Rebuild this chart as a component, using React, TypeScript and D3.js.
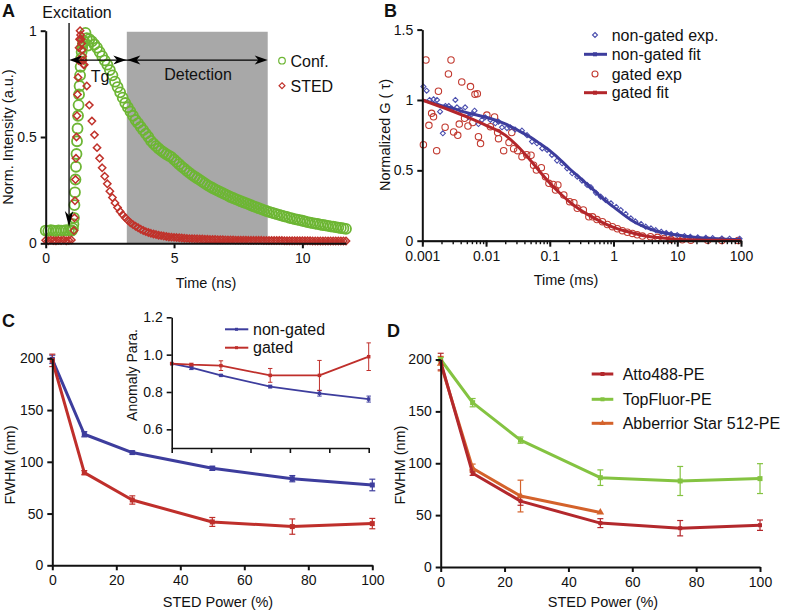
import React, { useRef, useEffect } from "react";
import * as d3 from "d3";

// ---------- A: lifetime decay, 0.1 ns channels ----------
const decayStep = 0.1;
const confDecay = [
  0.06, 0.058, 0.062, 0.06, 0.057, 0.061, 0.06, 0.059, 0.062, 0.06, 0.061,
  0.12, 0.42, 0.7, 0.9, 0.95, 0.965, 0.96, 0.95, 0.935, 0.92,
  0.9, 0.88, 0.86, 0.84, 0.815, 0.79, 0.76, 0.735, 0.71, 0.685,
  0.66, 0.64, 0.62, 0.6, 0.58, 0.565, 0.548, 0.532, 0.516, 0.5,
  0.482, 0.469, 0.457, 0.446, 0.436, 0.427, 0.419, 0.412, 0.405, 0.394,
  0.383, 0.372, 0.361, 0.351, 0.341, 0.331, 0.322, 0.314, 0.306, 0.298,
  0.29, 0.282, 0.274, 0.267, 0.26, 0.254, 0.248, 0.242, 0.236, 0.23,
  0.224, 0.218, 0.213, 0.208, 0.203, 0.198, 0.193, 0.189, 0.184, 0.179,
  0.174, 0.17, 0.165, 0.161, 0.156, 0.152, 0.148, 0.144, 0.141, 0.137,
  0.134, 0.13, 0.127, 0.124, 0.12, 0.117, 0.114, 0.111, 0.109, 0.106,
  0.103, 0.1, 0.097, 0.095, 0.093, 0.091, 0.088, 0.086, 0.084, 0.082,
  0.08, 0.078, 0.076, 0.074, 0.072, 0.07, 0.068,
];
const stedDecay = [
  0.014, 0.012, 0.015, 0.013, 0.012, 0.014, 0.013, 0.015, 0.012, 0.014, 0.016,
  0.06, 0.5, 0.92, 0.94, 0.84, 0.74, 0.65, 0.575, 0.51, 0.45,
  0.4, 0.355, 0.315, 0.28, 0.245, 0.215, 0.19, 0.168, 0.15, 0.134,
  0.12, 0.108, 0.097, 0.088, 0.08, 0.073, 0.066, 0.06, 0.055, 0.051,
  0.047, 0.044, 0.041, 0.038, 0.036, 0.034, 0.032, 0.03, 0.029, 0.028,
  0.027, 0.026, 0.025, 0.024, 0.023, 0.022, 0.022, 0.021, 0.021, 0.02,
  0.02, 0.019, 0.019, 0.018, 0.018, 0.018, 0.017, 0.017, 0.017, 0.016,
  0.016, 0.016, 0.016, 0.015, 0.015, 0.015, 0.015, 0.015, 0.014, 0.014,
  0.014, 0.014, 0.014, 0.014, 0.013, 0.013, 0.013, 0.013, 0.013, 0.013,
  0.013, 0.013, 0.012, 0.012, 0.012, 0.012, 0.012, 0.012, 0.012, 0.012,
  0.012, 0.012, 0.012, 0.011, 0.011, 0.011, 0.011, 0.011, 0.011, 0.011,
  0.011, 0.011, 0.011, 0.011, 0.011, 0.011, 0.011,
];
// extra points on the fast rising edge
const confRiseTime = [1.02, 1.06, 1.08, 1.12, 1.14, 1.16, 1.18, 1.22, 1.24, 1.26, 1.28, 1.32, 1.34, 1.36, 1.38, 1.42, 1.45, 1.55, 1.65];
const confRise = [0.06, 0.07, 0.09, 0.18, 0.24, 0.3, 0.36, 0.48, 0.54, 0.6, 0.65, 0.74, 0.79, 0.83, 0.87, 0.92, 0.94, 0.99, 0.93];
const stedRiseTime = [1.12, 1.14, 1.16, 1.18, 1.22, 1.24, 1.26, 1.28, 1.32, 1.34, 1.36, 1.38, 1.42, 1.44, 1.46, 1.48];
const stedRise = [0.12, 0.2, 0.3, 0.4, 0.6, 0.7, 0.78, 0.86, 0.96, 1.0, 0.98, 0.96, 0.91, 0.88, 0.86, 0.84];
const excitationTime = 0.91;
const detectionWindow = [3.16, 8.65];
const arrowLevel = 0.862;

// ---------- B: FCS curves ----------
const ngExpTime = [0.00104, 0.00117, 0.0013, 0.0015, 0.0017, 0.0019, 0.0021, 0.0023, 0.0026, 0.0029, 0.0033, 0.0035, 0.004, 0.0047, 0.0053, 0.006, 0.0066, 0.0076, 0.0086, 0.0097, 0.0117, 0.014, 0.0157, 0.0178, 0.0213, 0.024, 0.0286, 0.0366, 0.044, 0.0526, 0.063, 0.076, 0.091, 0.108, 0.13, 0.156, 0.187, 0.225, 0.27, 0.32, 0.386, 0.44, 0.53, 0.63, 0.75, 0.91, 1.1, 1.3, 1.55, 1.87, 2.2, 2.7, 3.2, 3.87, 4.6, 5.6, 6.7, 8, 10, 13, 16, 21, 28, 36, 50, 66, 95];
const ngExpG = [1.095, 1.066, 1.0, 1.005, 1.0, 0.917, 0.763, 0.957, 0.957, 0.94, 1.0, 0.948, 0.929, 0.948, 0.88, 0.9, 0.924, 0.829, 0.858, 0.877, 0.858, 0.834, 0.846, 0.806, 0.8, 0.806, 0.79, 0.782, 0.75, 0.704, 0.692, 0.656, 0.645, 0.609, 0.569, 0.55, 0.514, 0.479, 0.455, 0.427, 0.396, 0.38, 0.34, 0.313, 0.29, 0.266, 0.24, 0.218, 0.19, 0.159, 0.138, 0.119, 0.1, 0.088, 0.075, 0.064, 0.055, 0.048, 0.04, 0.033, 0.028, 0.024, 0.021, 0.019, 0.016, 0.014, 0.014];
const gExpTime = [0.00104, 0.00114, 0.00127, 0.0014, 0.0015, 0.00168, 0.00179, 0.00228, 0.00257, 0.00282, 0.0031, 0.0036, 0.0038, 0.00416, 0.0046, 0.0052, 0.0057, 0.0062, 0.0067, 0.0073, 0.0076, 0.0082, 0.0103, 0.0117, 0.0136, 0.0152, 0.0157, 0.0189, 0.0229, 0.0253, 0.0271, 0.0313, 0.0366, 0.0435, 0.0508, 0.0557, 0.0617, 0.0737, 0.0856, 0.0969, 0.113, 0.123, 0.134, 0.166, 0.205, 0.239, 0.27, 0.336, 0.41, 0.468, 0.55, 0.67, 0.8, 0.96, 1.15, 1.38, 1.65, 1.98, 2.35, 2.84, 3.8, 4.9, 6.2, 7.9, 12, 16.3, 30, 50, 90];
const gExpG = [0.682, 1.284, 0.82, 0.905, 0.88, 0.64, 1.062, 0.806, 1.185, 1.284, 0.773, 0.749, 0.829, 1.128, 0.87, 0.815, 1.095, 0.84, 1.04, 1.045, 0.739, 0.69, 0.893, 0.81, 0.879, 0.768, 0.725, 0.64, 0.697, 0.768, 0.654, 0.64, 0.597, 0.611, 0.607, 0.536, 0.502, 0.519, 0.455, 0.408, 0.4, 0.36, 0.396, 0.325, 0.277, 0.27, 0.23, 0.218, 0.17, 0.17, 0.15, 0.135, 0.115, 0.1, 0.085, 0.071, 0.06, 0.052, 0.042, 0.033, 0.028, 0.024, 0.016, 0.01, 0.006, 0.004, 0.003, 0.002, 0.002];
const fitTime = [0.001, 0.002, 0.003, 0.005, 0.01, 0.02, 0.03, 0.05, 0.07, 0.1, 0.15, 0.2, 0.3, 0.5, 0.7, 1, 2, 3, 5, 10, 20, 50, 100];
const ngFit = [1.0, 0.96, 0.94, 0.91, 0.877, 0.83, 0.79, 0.735, 0.69, 0.64, 0.57, 0.515, 0.445, 0.355, 0.295, 0.24, 0.14, 0.1, 0.065, 0.04, 0.022, 0.012, 0.008];
const gFit = [1.0, 0.95, 0.92, 0.88, 0.82, 0.75, 0.68, 0.57, 0.49, 0.41, 0.33, 0.28, 0.22, 0.16, 0.125, 0.095, 0.055, 0.035, 0.022, 0.01, 0.005, 0.003, 0.002];

// ---------- C: FWHM vs STED power ----------
const stedPower = [0, 10, 25, 50, 75, 100];
const fwhmNonGated = [199, 126.6, 108.9, 93.7, 83.7, 77.6];
const errNonGated = [4, 2.5, 1.5, 2, 3, 5.6];
const fwhmGated = [198, 89.5, 63.1, 41.9, 37.4, 40.3];
const errGated = [6, 2, 4, 4.3, 7.4, 5];
const anomNonGated = [0.952, 0.93, 0.889, 0.829, 0.793, 0.762];
const errAnomNonGated = [0, 0.01, 0.004, 0.007, 0.015, 0.016];
const anomGated = [0.952, 0.946, 0.941, 0.889, 0.889, 0.989];
const errAnomGated = [0, 0.008, 0.026, 0.037, 0.08, 0.074];

// ---------- D: dyes ----------
const attoFwhm = [198, 90.3, 63.5, 42.3, 37.4, 40.3];
const attoErr = [8, 2, 4, 4.3, 7.4, 5];
const topFluorFwhm = [200, 158.4, 122.3, 86.1, 82.9, 85.2];
const topFluorErr = [2, 4, 3, 7.5, 14, 14.4];
const abberPower = [0, 10, 25, 50];
const abberFwhm = [196, 95.2, 68.4, 52.6];
const abberErr = [7, 4, 15.3, 0];

const FONT = "'Liberation Sans', Arial, sans-serif";
const BLUE = "#3d3d9d";
const RED = "#bf2f2b";
const DARKRED = "#b3282c";
const LGREEN = "#84c341";
const ORANGE = "#d4622b";

function styleAxis(g: any, w = 2, fs = 14) {
  g.attr("font-family", null).attr("font-size", fs);
  g.select(".domain").attr("stroke", "#111").attr("stroke-width", w);
  g.selectAll(".tick line").attr("stroke", "#111").attr("stroke-width", w);
  g.selectAll(".tick text").attr("fill", "#111");
}

function head(g: any, tx: number, ty: number, dx: number, dy: number, len = 13, half = 4.5) {
  const bx = tx - dx * len, by = ty - dy * len;
  const px = -dy, py = dx;
  const nx = tx - dx * len * 0.72, ny = ty - dy * len * 0.72;
  g.append("path")
    .attr("d", `M${tx},${ty}L${bx + px * half},${by + py * half}L${nx},${ny}L${bx - px * half},${by - py * half}Z`)
    .attr("fill", "#000");
}

function text(g: any, x: number, y: number, s: string, size: number, anchor = "start", rotate = false, bold = false) {
  g.append("text")
    .attr("x", x).attr("y", y)
    .attr("font-size", size)
    .attr("text-anchor", anchor)
    .attr("font-weight", bold ? "bold" : null)
    .attr("transform", rotate ? `rotate(-90 ${x} ${y})` : null)
    .attr("fill", "#111")
    .text(s);
}

function errorBars(g: any, xs: number[], ys: number[], es: number[], x: any, y: any, color: string, cap = 3, sw = 1.2) {
  xs.forEach((p, i) => {
    if (!es[i]) return;
    const cx = x(p), y1 = y(ys[i] - es[i]), y2 = y(ys[i] + es[i]);
    g.append("line").attr("x1", cx).attr("x2", cx).attr("y1", y1).attr("y2", y2).attr("stroke", color).attr("stroke-width", sw);
    [y1, y2].forEach((yy) =>
      g.append("line").attr("x1", cx - cap).attr("x2", cx + cap).attr("y1", yy).attr("y2", yy).attr("stroke", color).attr("stroke-width", sw)
    );
  });
}

function series(g: any, xs: number[], ys: number[], x: any, y: any, color: string, sw: number, marker: "square" | "triangle", ms = 4) {
  const line = d3.line<number>().x((_, i) => x(xs[i])).y((d) => y(d));
  g.append("path").attr("d", line(ys)).attr("fill", "none").attr("stroke", color).attr("stroke-width", sw).attr("stroke-linejoin", "round");
  const sym = d3.symbol().type(marker === "square" ? d3.symbolSquare : d3.symbolTriangle).size(ms * ms);
  g.selectAll(null).data(ys).join("path")
    .attr("d", sym)
    .attr("transform", (d: number, i: number) => `translate(${x(xs[i])},${y(d)})`)
    .attr("fill", color);
}

const App: React.FC = () => {
  const svgRef = useRef<SVGSVGElement>(null);

  useEffect(() => {
    if (!svgRef.current) return;
    const svg = d3.select(svgRef.current);
    svg.selectAll("*").remove();

    // ================= A =================
    const gA = svg.append("g");
    const xA = d3.scaleLinear().domain([0, 11.7]).range([45.7, 346]);
    const yA = d3.scaleLinear().domain([0, 1]).range([243.3, 30.7]);

    gA.append("rect")
      .attr("x", xA(detectionWindow[0]))
      .attr("y", yA(0.995))
      .attr("width", xA(detectionWindow[1]) - xA(detectionWindow[0]))
      .attr("height", yA(0) - yA(0.995))
      .attr("fill", "#a8a8a8");

    const confPts = confDecay.map((v, i) => [i * decayStep, v]).concat(confRiseTime.map((t, i) => [t, confRise[i]]));
    const stedPts = stedDecay.map((v, i) => [i * decayStep, v]).concat(stedRiseTime.map((t, i) => [t, stedRise[i]]));

    gA.append("g").selectAll("circle").data(confPts).join("circle")
      .attr("cx", (d) => xA(d[0])).attr("cy", (d) => yA(d[1])).attr("r", 5)
      .attr("fill", "none").attr("stroke", "#6db634").attr("stroke-width", 1.8);
    const diamond = d3.symbol().type(d3.symbolDiamond2).size(34);
    gA.append("g").selectAll("path").data(stedPts).join("path")
      .attr("d", diamond)
      .attr("transform", (d) => `translate(${xA(d[0])},${yA(d[1])})`)
      .attr("fill", "none").attr("stroke", "#c0322b").attr("stroke-width", 1.5);

    styleAxis(gA.append("g").attr("transform", `translate(${xA(0)},0)`)
      .call(d3.axisLeft(yA).tickValues([0, 0.5, 1]).tickFormat(d3.format("~g") as any).tickSize(5).tickSizeOuter(0).tickPadding(4)));
    styleAxis(gA.append("g").attr("transform", `translate(0,${yA(0)})`)
      .call(d3.axisBottom(xA).tickValues([0, 5, 10]).tickSize(5).tickSizeOuter(0).tickPadding(5)));

    // excitation arrow
    const ex = xA(excitationTime);
    gA.append("line").attr("x1", ex).attr("x2", ex).attr("y1", 23).attr("y2", 215).attr("stroke", "#000").attr("stroke-width", 1.3);
    head(gA, ex, 227, 0, 1, 16, 4.2);
    // gate arrows
    const ay = yA(arrowLevel);
    const gx0 = xA(detectionWindow[0]), gx1 = xA(detectionWindow[1]);
    gA.append("line").attr("x1", ex + 6).attr("x2", gx1 - 6).attr("y1", ay).attr("y2", ay).attr("stroke", "#000").attr("stroke-width", 1.3);
    head(gA, ex, ay, -1, 0);
    head(gA, gx0 - 0.5, ay, 1, 0);
    head(gA, gx0 + 0.5, ay, -1, 0);
    head(gA, gx1, ay, 1, 0);

    text(gA, 77, 18, "Excitation", 16, "middle");
    text(gA, 100, 82, "Tg", 16, "middle");
    text(gA, 198, 80, "Detection", 16, "middle");
    text(gA, 2, 17, "A", 18, "start", false, true);
    text(gA, 13, 137, "Norm. Intensity (a.u.)", 14.5, "middle", true);
    text(gA, 206, 288, "Time (ns)", 14.5, "middle");

    gA.append("circle").attr("cx", 282).attr("cy", 60.7).attr("r", 3.3).attr("fill", "none").attr("stroke", "#6db634").attr("stroke-width", 1.2);
    text(gA, 290.5, 66.5, "Conf.", 16);
    gA.append("path").attr("d", d3.symbol().type(d3.symbolDiamond2).size(22)).attr("transform", "translate(282,85.7)")
      .attr("fill", "none").attr("stroke", "#c0322b").attr("stroke-width", 1.2);
    text(gA, 290.5, 91.5, "STED", 16);

    // ================= B =================
    const gB = svg.append("g");
    const xB = d3.scaleLog().domain([0.001, 100]).range([422.3, 741]);
    const yB = d3.scaleLinear().domain([0, 1.5]).range([240.7, 29.6]);

    const fitLine = d3.line<number>().x((_, i) => xB(fitTime[i])).y((d) => yB(d)).curve(d3.curveMonotoneX);

    gB.append("g").selectAll("circle").data(gExpTime).join("circle")
      .attr("cx", (d) => xB(d)).attr("cy", (_, i) => yB(gExpG[i])).attr("r", 3.2)
      .attr("fill", "none").attr("stroke", "#c23a30").attr("stroke-width", 1.1);
    const smallDiamond = d3.symbol().type(d3.symbolDiamond2).size(16);
    gB.append("g").selectAll("path").data(ngExpTime).join("path")
      .attr("d", smallDiamond)
      .attr("transform", (d, i) => `translate(${xB(d)},${yB(ngExpG[i])})`)
      .attr("fill", "none").attr("stroke", "#4b4fae").attr("stroke-width", 1.1);

    gB.append("path").attr("d", fitLine(ngFit)).attr("fill", "none").attr("stroke", BLUE).attr("stroke-width", 3);
    gB.append("path").attr("d", fitLine(gFit)).attr("fill", "none").attr("stroke", "#b3262b").attr("stroke-width", 3);

    styleAxis(gB.append("g").attr("transform", `translate(${xB(0.001)},0)`)
      .call(d3.axisLeft(yB).tickValues([0, 0.5, 1, 1.5]).tickFormat(d3.format("~g") as any).tickSize(5).tickSizeOuter(0).tickPadding(4)));
    const minorTicks = xB.ticks();
    styleAxis(gB.append("g").attr("transform", `translate(0,${yB(0)})`)
      .call(d3.axisBottom(xB).tickValues(minorTicks).tickSize(3.5).tickSizeOuter(0).tickFormat(() => "")), 1.4);
    styleAxis(gB.append("g").attr("transform", `translate(0,${yB(0)})`)
      .call(d3.axisBottom(xB).tickValues([0.001, 0.01, 0.1, 1, 10, 100]).tickSize(6).tickSizeOuter(0).tickPadding(4).tickFormat((d) => String(d))));

    text(gB, 384, 17, "B", 18, "start", false, true);
    text(gB, 390, 135, "Normalized G ( \u03c4)", 14.5, "middle", true);
    text(gB, 566, 285, "Time (ms)", 14.5, "middle");

    gB.append("path").attr("d", d3.symbol().type(d3.symbolDiamond2).size(16)).attr("transform", "translate(595,35)")
      .attr("fill", "none").attr("stroke", "#4b4fae").attr("stroke-width", 1.1);
    text(gB, 611.7, 40.5, "non-gated exp.", 16);
    gB.append("line").attr("x1", 584).attr("x2", 607).attr("y1", 54.3).attr("y2", 54.3).attr("stroke", BLUE).attr("stroke-width", 3);
    gB.append("rect").attr("x", 593).attr("y", 52.3).attr("width", 4).attr("height", 4).attr("fill", BLUE);
    text(gB, 611.7, 60, "non-gated fit", 16);
    gB.append("circle").attr("cx", 595).attr("cy", 74).attr("r", 3).attr("fill", "none").attr("stroke", "#c23a30").attr("stroke-width", 1.1);
    text(gB, 611.7, 79.5, "gated exp", 16);
    gB.append("line").attr("x1", 584).attr("x2", 607).attr("y1", 92.7).attr("y2", 92.7).attr("stroke", "#b3262b").attr("stroke-width", 3);
    gB.append("rect").attr("x", 593).attr("y", 90.7).attr("width", 4).attr("height", 4).attr("fill", "#b3262b");
    text(gB, 611.7, 98.2, "gated fit", 16);

    // ================= C =================
    const gC = svg.append("g");
    const xC = d3.scaleLinear().domain([0, 100]).range([52.3, 372.3]);
    const yC = d3.scaleLinear().domain([0, 200]).range([565.3, 358.3]);
    errorBars(gC, stedPower, fwhmNonGated, errNonGated, xC, yC, BLUE);
    errorBars(gC, stedPower, fwhmGated, errGated, xC, yC, RED);
    series(gC, stedPower, fwhmNonGated, xC, yC, BLUE, 3, "square", 5);
    series(gC, stedPower, fwhmGated, xC, yC, RED, 3, "square", 5);
    styleAxis(gC.append("g").attr("transform", `translate(${xC(0)},0)`)
      .call(d3.axisLeft(yC).tickValues([0, 50, 100, 150, 200]).tickSize(5).tickSizeOuter(0).tickPadding(4)));
    styleAxis(gC.append("g").attr("transform", `translate(0,${yC(0)})`)
      .call(d3.axisBottom(xC).tickValues([0, 20, 40, 60, 80, 100]).tickSize(5).tickSizeOuter(0).tickPadding(5)));
    text(gC, 2, 327, "C", 18, "start", false, true);
    text(gC, 15, 465, "FWHM (nm)", 14.5, "middle", true);
    text(gC, 218, 607, "STED Power (%)", 14.5, "middle");

    // inset
    const xI = d3.scaleLinear().domain([0, 100]).range([171.7, 368.7]);
    const yI = d3.scaleLinear().domain([0.5, 1.2]).range([448, 317.3]);
    errorBars(gC, stedPower, anomNonGated, errAnomNonGated, xI, yI, BLUE, 2.2, 1);
    errorBars(gC, stedPower, anomGated, errAnomGated, xI, yI, RED, 2.2, 1);
    series(gC, stedPower, anomNonGated, xI, yI, BLUE, 1.8, "square", 3.5);
    series(gC, stedPower, anomGated, xI, yI, RED, 1.8, "square", 3.5);
    styleAxis(gC.append("g").attr("transform", `translate(${xI(0)},0)`)
      .call(d3.axisLeft(yI).tickValues([0.6, 0.8, 1.0, 1.2]).tickFormat(d3.format(".1f") as any).tickSize(5).tickSizeOuter(0).tickPadding(4)), 1.6);
    styleAxis(gC.append("g").attr("transform", `translate(0,${yI(0.5)})`)
      .call(d3.axisBottom(xI).tickValues([0, 20, 40, 60, 80, 100]).tickSize(5).tickSizeOuter(0).tickFormat(() => "")), 1.6);
    text(gC, 137, 375, "Anomaly Para.", 14, "middle", true);
    gC.append("line").attr("x1", 225).attr("x2", 248.3).attr("y1", 329.3).attr("y2", 329.3).attr("stroke", BLUE).attr("stroke-width", 2);
    gC.append("rect").attr("x", 235).attr("y", 327.8).attr("width", 3).attr("height", 3).attr("fill", BLUE);
    text(gC, 253, 335, "non-gated", 16);
    gC.append("line").attr("x1", 225).attr("x2", 248.3).attr("y1", 347.7).attr("y2", 347.7).attr("stroke", RED).attr("stroke-width", 2);
    gC.append("rect").attr("x", 235).attr("y", 346.2).attr("width", 3).attr("height", 3).attr("fill", RED);
    text(gC, 253, 353.4, "gated", 16);

    // ================= D =================
    const gD = svg.append("g");
    const xD = d3.scaleLinear().domain([0, 100]).range([440.7, 760]);
    const yD = d3.scaleLinear().domain([0, 200]).range([567, 359.5]);
    errorBars(gD, stedPower, topFluorFwhm, topFluorErr, xD, yD, LGREEN);
    errorBars(gD, abberPower, abberFwhm, abberErr, xD, yD, ORANGE);
    errorBars(gD, stedPower, attoFwhm, attoErr, xD, yD, DARKRED);
    series(gD, stedPower, topFluorFwhm, xD, yD, LGREEN, 3, "square", 5);
    series(gD, abberPower, abberFwhm, xD, yD, ORANGE, 3, "triangle", 5);
    series(gD, stedPower, attoFwhm, xD, yD, DARKRED, 3, "square", 4);
    styleAxis(gD.append("g").attr("transform", `translate(${xD(0)},0)`)
      .call(d3.axisLeft(yD).tickValues([0, 50, 100, 150, 200]).tickSize(5).tickSizeOuter(0).tickPadding(4)));
    styleAxis(gD.append("g").attr("transform", `translate(0,${yD(0)})`)
      .call(d3.axisBottom(xD).tickValues([0, 20, 40, 60, 80, 100]).tickSize(5).tickSizeOuter(0).tickPadding(5)));
    text(gD, 387, 337, "D", 18, "start", false, true);
    text(gD, 405, 465, "FWHM (nm)", 14.5, "middle", true);
    text(gD, 603, 607, "STED Power (%)", 14.5, "middle");

    const legendD = [
      { color: DARKRED, label: "Atto488-PE", y: 374, mark: d3.symbolSquare },
      { color: LGREEN, label: "TopFluor-PE", y: 399.3, mark: d3.symbolSquare },
      { color: ORANGE, label: "Abberrior Star 512-PE", y: 423.3, mark: d3.symbolTriangle },
    ];
    legendD.forEach((it) => {
      gD.append("line").attr("x1", 591.7).attr("x2", 613.3).attr("y1", it.y).attr("y2", it.y).attr("stroke", it.color).attr("stroke-width", 3);
      gD.append("path").attr("d", d3.symbol().type(it.mark).size(16)).attr("transform", `translate(602.5,${it.y})`).attr("fill", it.color);
      text(gD, 622.7, it.y + 5.5, it.label, 16);
    });
  }, []);

  return (
    <svg
      ref={svgRef}
      width={785}
      height={611}
      fontFamily={FONT}
      style={{ position: "absolute", left: 0, top: 0, background: "#fff" }}
    ></svg>
  );
};

export default App;
